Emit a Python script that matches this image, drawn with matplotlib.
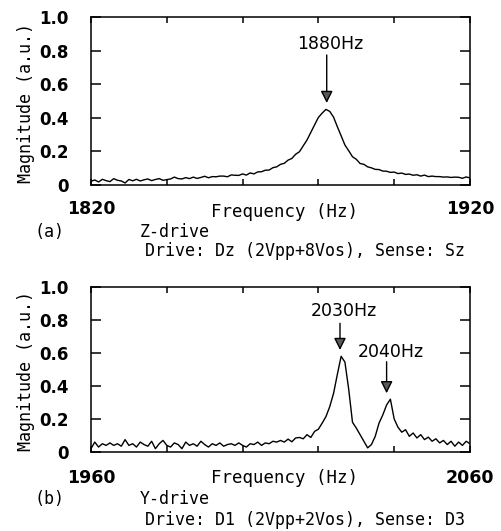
import numpy as np
import matplotlib
matplotlib.use("Agg")
import matplotlib.pyplot as plt

# Spectrum (a): Z-drive, 1 Hz steps from 1820 to 1920
freq_a = np.arange(1820, 1921)
mag_a = [
    0.022, 0.030, 0.018, 0.034, 0.026, 0.020, 0.038, 0.028, 0.024, 0.012,
    0.033, 0.025, 0.034, 0.024, 0.031, 0.036, 0.026, 0.033, 0.038, 0.028,
    0.032, 0.036, 0.047, 0.038, 0.036, 0.044, 0.038, 0.047, 0.039, 0.045,
    0.052, 0.043, 0.050, 0.049, 0.053, 0.053, 0.049, 0.060, 0.058, 0.057,
    0.066, 0.059, 0.072, 0.066, 0.078, 0.079, 0.088, 0.089, 0.103, 0.108,
    0.123, 0.129, 0.148, 0.158, 0.183, 0.198, 0.233, 0.268, 0.313, 0.358,
    0.402, 0.428, 0.450, 0.438, 0.404, 0.347, 0.293, 0.238, 0.204, 0.168,
    0.153, 0.128, 0.123, 0.108, 0.102, 0.093, 0.092, 0.083, 0.082, 0.075,
    0.077, 0.068, 0.071, 0.063, 0.065, 0.058, 0.061, 0.053, 0.059, 0.050,
    0.053, 0.050, 0.050, 0.047, 0.048, 0.045, 0.047, 0.046, 0.040, 0.048,
    0.042,
]

# Spectrum (b): Y-drive, 1 Hz steps from 1960 to 2060
freq_b = np.arange(1960, 2061)
mag_b = [
    0.020, 0.060, 0.030, 0.050, 0.040, 0.055, 0.040, 0.050, 0.035, 0.075,
    0.040, 0.050, 0.030, 0.060, 0.045, 0.035, 0.065, 0.020, 0.050, 0.070,
    0.040, 0.030, 0.055, 0.045, 0.020, 0.060, 0.040, 0.050, 0.035, 0.065,
    0.045, 0.030, 0.050, 0.040, 0.055, 0.035, 0.045, 0.050, 0.040, 0.055,
    0.040, 0.030, 0.050, 0.045, 0.060, 0.040, 0.055, 0.050, 0.065, 0.060,
    0.070, 0.060, 0.078, 0.062, 0.085, 0.088, 0.080, 0.105, 0.088, 0.125,
    0.138, 0.175, 0.215, 0.275, 0.355, 0.470, 0.580, 0.545, 0.380, 0.180,
    0.145, 0.105, 0.065, 0.025, 0.045, 0.095, 0.175, 0.225, 0.285, 0.320,
    0.200, 0.150, 0.120, 0.135, 0.095, 0.115, 0.085, 0.105, 0.075, 0.090,
    0.065, 0.080, 0.055, 0.070, 0.045, 0.065, 0.035, 0.060, 0.040, 0.065,
    0.050,
]

yticks = [0, 0.2, 0.4, 0.6, 0.8, 1.0]
ytick_labels = ["0", "0.2", "0.4", "0.6", "0.8", "1.0"]

# peak annotations: (label, arrow x, text y, arrow tail y, arrow tip y)
peaks_a = [("1880Hz", 1882.2, 0.842, 0.774, 0.488)]
peaks_b = [("2030Hz", 2025.7, 0.852, 0.780, 0.618),
           ("2040Hz", 2038.0, 0.609, 0.547, 0.356)]

mono = "DejaVu Sans Mono"

fig = plt.figure(figsize=(5.01, 5.31), dpi=100)
ax_a = fig.add_axes([0.1816, 0.6516, 0.7565, 0.3164])
ax_b = fig.add_axes([0.1816, 0.1488, 0.7565, 0.3107])


def style_axis(ax, freq, mag, xmin, xmax, peaks, xpad):
    ax.plot(freq, mag, color="black", lw=1.0)
    ax.set_xlim(xmin, xmax)
    ax.set_ylim(0, 1.0)
    xt = np.arange(xmin, xmax + 1, 20)
    ax.set_xticks(xt)
    ax.set_xticklabels([str(xmin)] + [""] * (len(xt) - 2) + [str(xmax)],
                       fontweight="bold")
    ax.set_yticks(yticks)
    ax.set_yticklabels(ytick_labels, fontweight="bold")
    ax.tick_params(axis="y", direction="in", length=7.2, width=1.1,
                   left=True, right=True, labelsize=12, pad=16)
    ax.tick_params(axis="x", direction="in", length=4, width=1.1,
                   top=True, bottom=True, labelsize=12.5, pad=xpad)
    for s in ax.spines.values():
        s.set_linewidth(1.1)
    ax.set_xlabel("Frequency (Hz)", fontsize=12.5, family=mono)
    ax.xaxis.set_label_coords(0.51, -0.105)
    ax.set_ylabel("Magnitude (a.u.)", fontsize=12, family=mono)
    ax.yaxis.set_label_coords(-0.148, 0.49)
    for label, x, ty, tail, tip in peaks:
        ax.text(x + 1.0, ty, label, fontsize=12.5, ha="center", va="center")
        ax.annotate("", xy=(x, tip), xytext=(x, tail),
                    arrowprops=dict(arrowstyle="-|>,head_length=0.6,head_width=0.3",
                                    ec="black", fc="0.35", lw=1.0,
                                    mutation_scale=12, shrinkA=0, shrinkB=0))


style_axis(ax_a, freq_a, mag_a, 1820, 1920, peaks_a, 10.5)
style_axis(ax_b, freq_b, mag_b, 1960, 2060, peaks_b, 12.5)

fig.text(35 / 501, 1 - 232 / 531, "(a)", fontsize=12, family=mono, va="center")
fig.text(140 / 501, 1 - 232 / 531, "Z-drive", fontsize=12, family=mono, va="center")
fig.text(145 / 501, 1 - 251 / 531, "Drive: Dz (2Vpp+8Vos), Sense: Sz",
         fontsize=12, family=mono, va="center")
fig.text(35 / 501, 1 - 499 / 531, "(b)", fontsize=12, family=mono, va="center")
fig.text(140 / 501, 1 - 499 / 531, "Y-drive", fontsize=12, family=mono, va="center")
fig.text(145 / 501, 1 - 520 / 531, "Drive: D1 (2Vpp+2Vos), Sense: D3",
         fontsize=12, family=mono, va="center")

fig.savefig("out.png", dpi=100)
